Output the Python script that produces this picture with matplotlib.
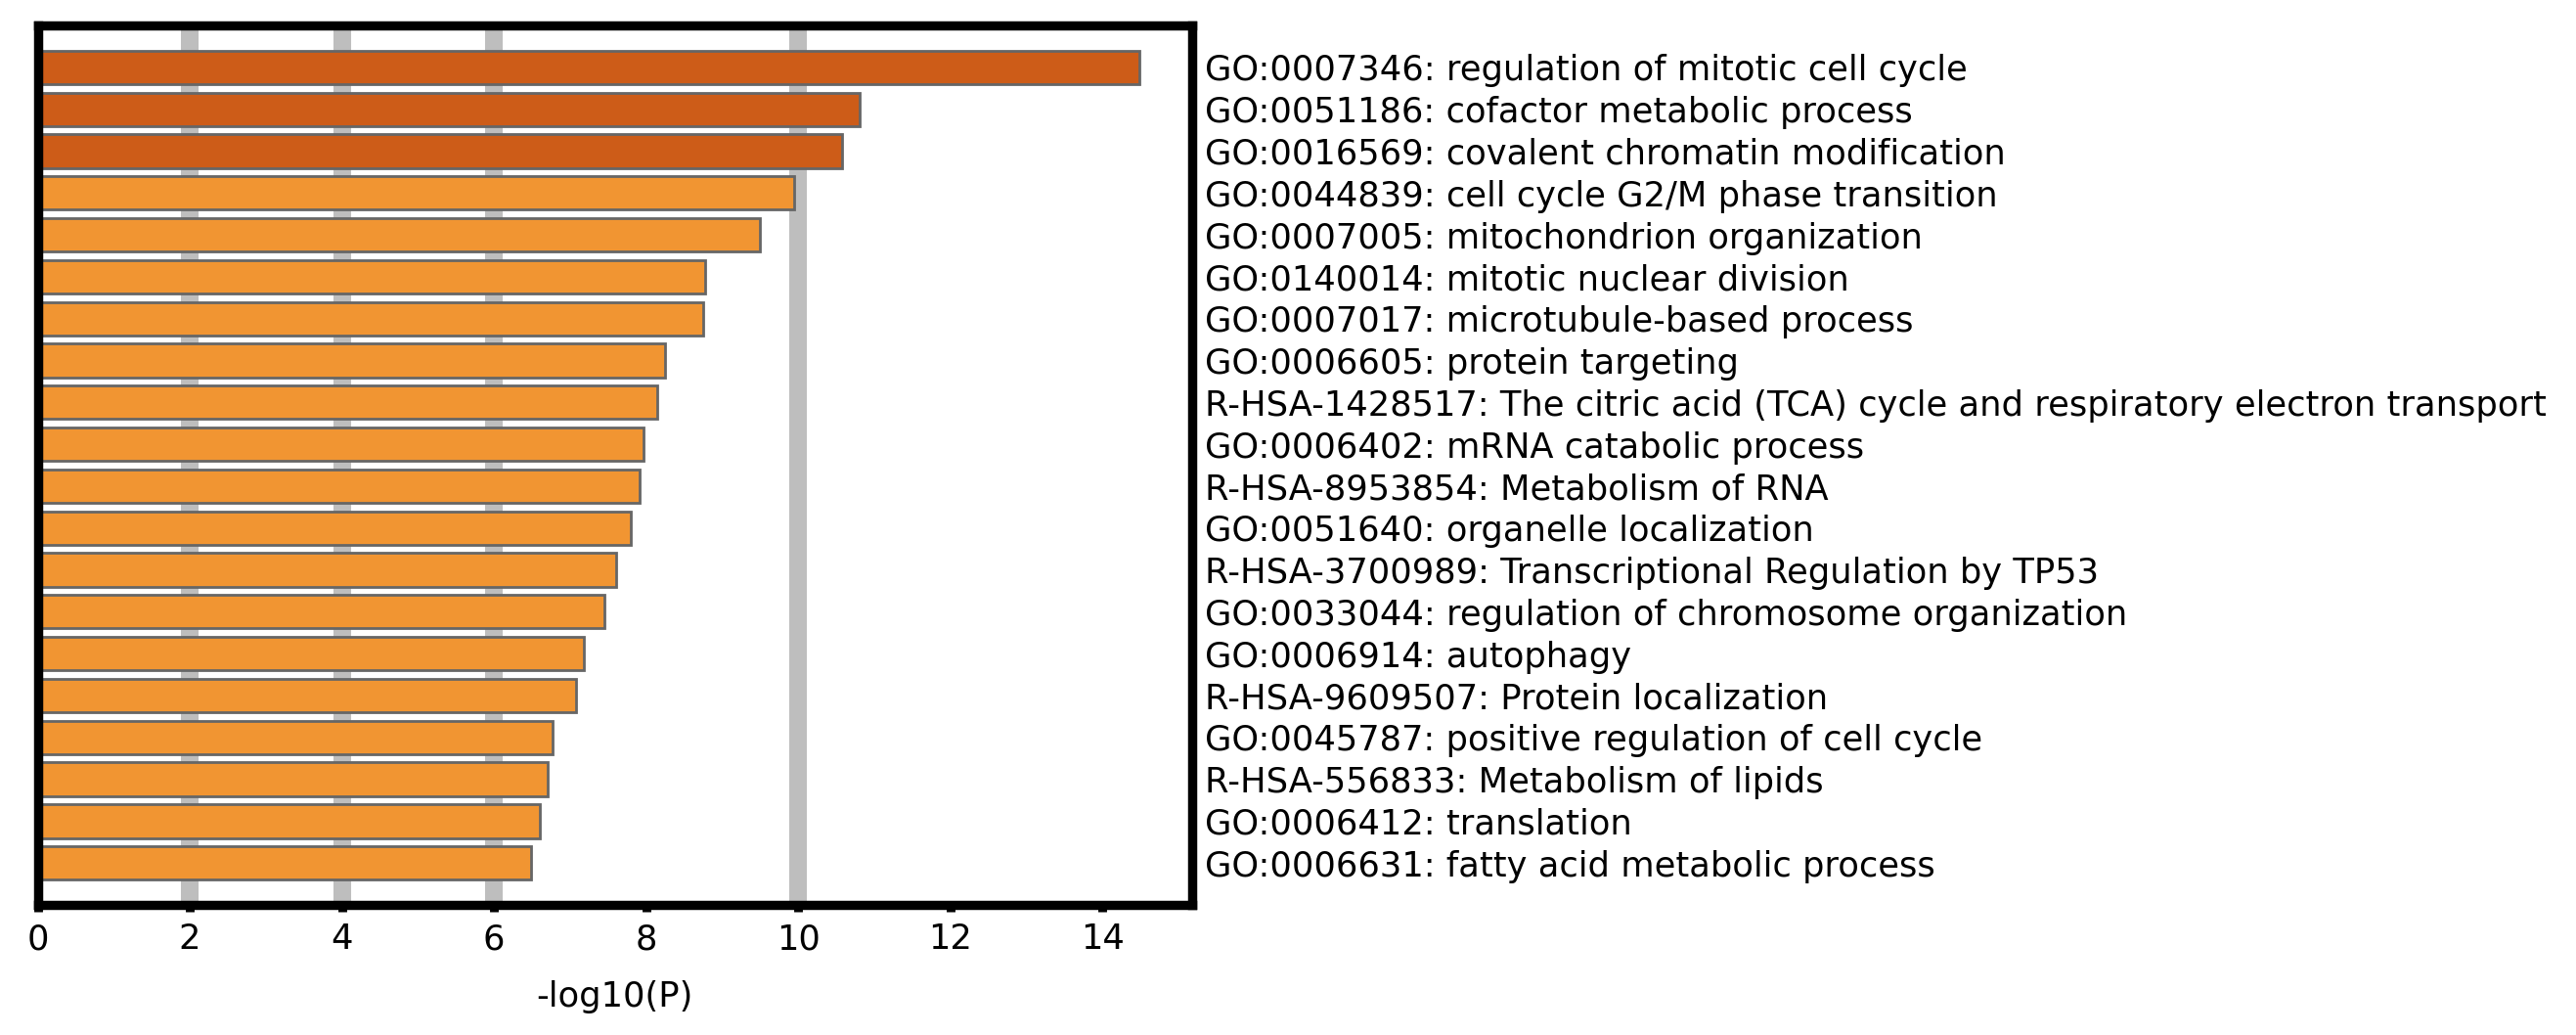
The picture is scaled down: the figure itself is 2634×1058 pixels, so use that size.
import matplotlib
matplotlib.use("Agg")
import matplotlib.pyplot as plt

terms = [
    "GO:0007346: regulation of mitotic cell cycle",
    "GO:0051186: cofactor metabolic process",
    "GO:0016569: covalent chromatin modification",
    "GO:0044839: cell cycle G2/M phase transition",
    "GO:0007005: mitochondrion organization",
    "GO:0140014: mitotic nuclear division",
    "GO:0007017: microtubule-based process",
    "GO:0006605: protein targeting",
    "R-HSA-1428517: The citric acid (TCA) cycle and respiratory electron transport",
    "GO:0006402: mRNA catabolic process",
    "R-HSA-8953854: Metabolism of RNA",
    "GO:0051640: organelle localization",
    "R-HSA-3700989: Transcriptional Regulation by TP53",
    "GO:0033044: regulation of chromosome organization",
    "GO:0006914: autophagy",
    "R-HSA-9609507: Protein localization",
    "GO:0045787: positive regulation of cell cycle",
    "R-HSA-556833: Metabolism of lipids",
    "GO:0006412: translation",
    "GO:0006631: fatty acid metabolic process",
]
neglogp = [14.49, 10.81, 10.58, 9.95, 9.50, 8.77, 8.75, 8.25, 8.15, 7.97,
           7.91, 7.80, 7.60, 7.45, 7.18, 7.08, 6.77, 6.70, 6.60, 6.49]
dark_count = 3
guide_lines = [2, 4, 6, 10]
xticks = [0, 2, 4, 6, 8, 10, 12, 14]

DPI = 200
FS = 12.7
fig = plt.figure(figsize=(2634 / DPI, 1058 / DPI), dpi=DPI)
ax = fig.add_axes([0.01462, 0.1257, 0.4628 - 0.01462, 0.9754 - 0.1257])

colors = ["#CD5C18" if i < dark_count else "#F19532" for i in range(len(neglogp))]
ypos = list(range(len(neglogp)))

for g in guide_lines:
    ax.axvline(g, color="#BEBEBE", linewidth=6.5, zorder=1)

ax.barh(ypos, neglogp, height=0.8, color=colors, edgecolor="#666666",
        linewidth=1.0, zorder=2)

ax.set_xlim(0, 15.18)
ax.set_ylim(20, -1)

ax.yaxis.tick_right()
ax.set_yticks(ypos)
ax.set_yticklabels(terms, fontsize=FS)
ax.tick_params(axis="y", length=0, pad=4.5)

ax.set_xticks(xticks)
ax.set_xticklabels([str(t) for t in xticks], fontsize=FS)
ax.tick_params(axis="x", length=2.5, width=3.2, pad=4.0)
ax.set_xlabel("-log10(P)", fontsize=FS, labelpad=9)

for s in ax.spines.values():
    s.set_linewidth(3.4)
    s.set_color("black")
    s.set_zorder(3)

fig.savefig("out.png", dpi=DPI)
